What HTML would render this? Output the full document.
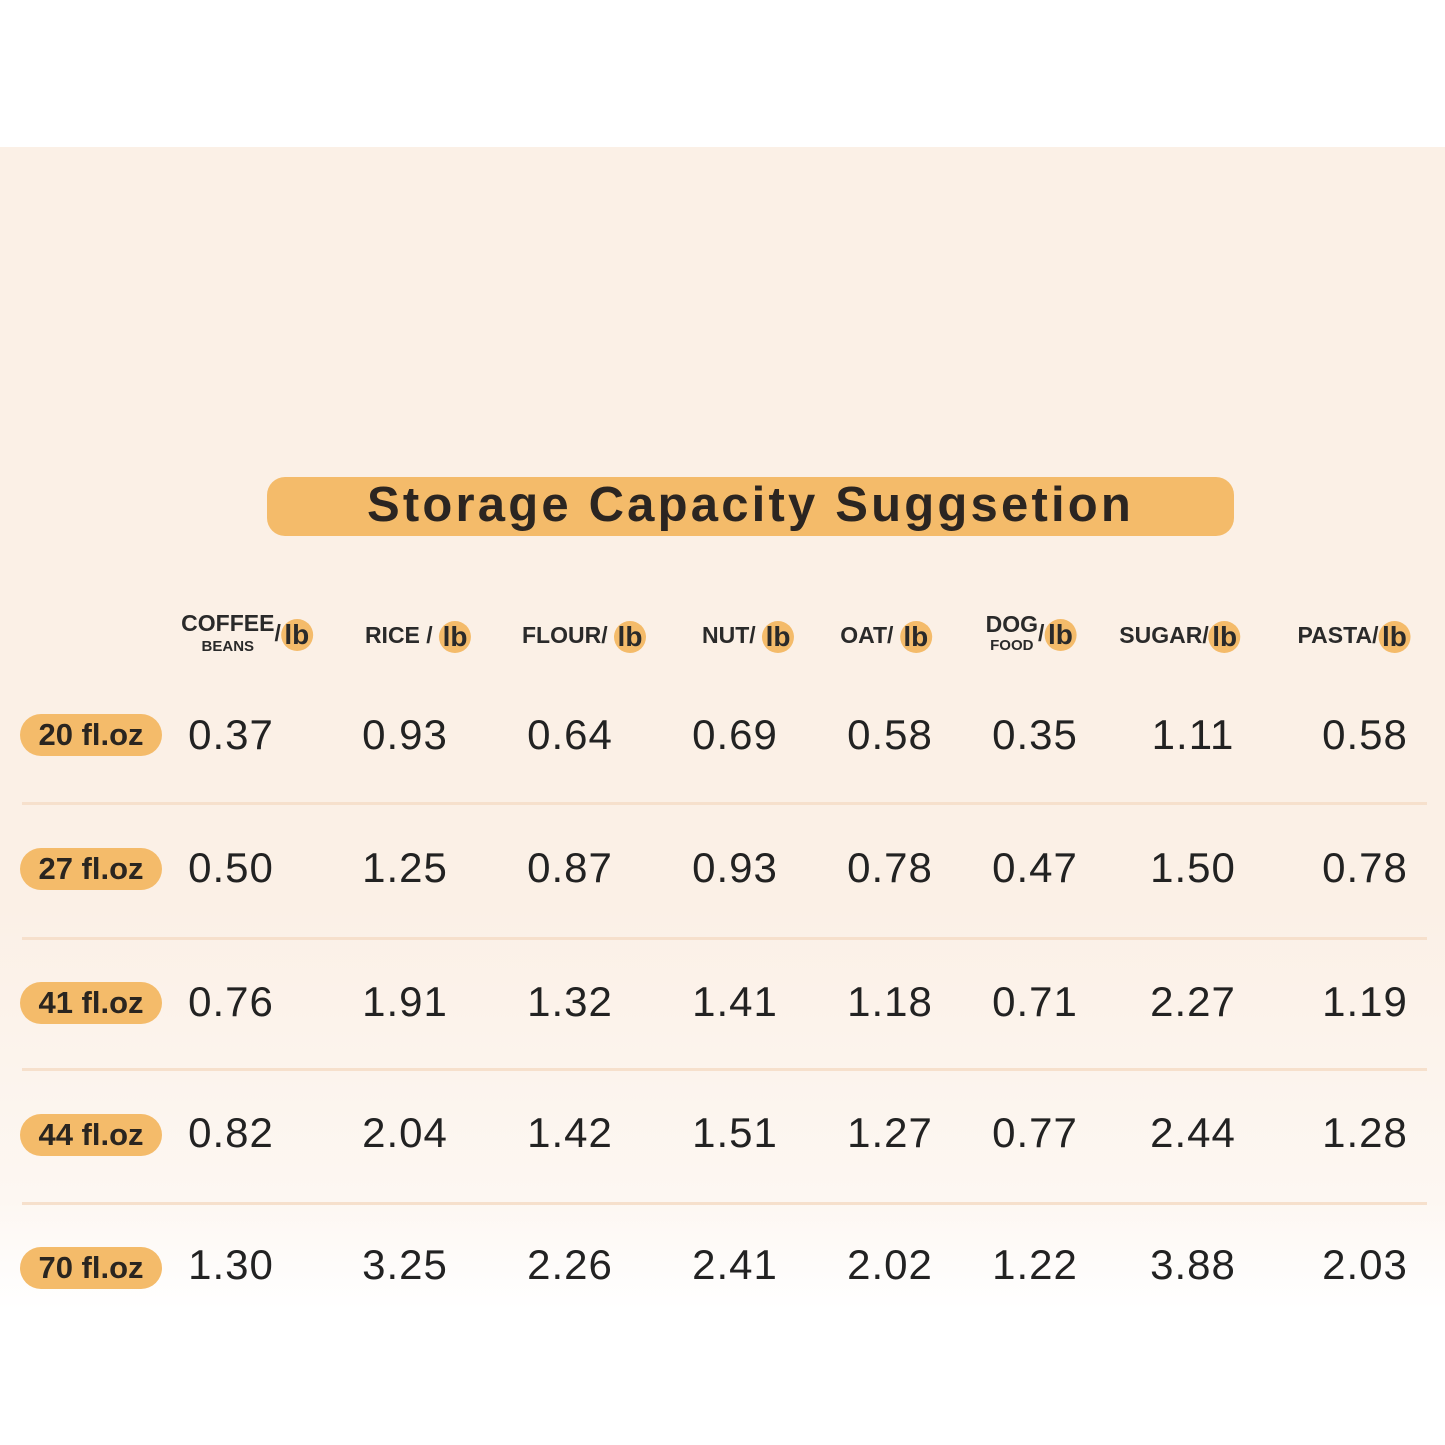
<!DOCTYPE html>
<html><head><style>
body{margin:0;width:1445px;height:1445px;position:relative;overflow:hidden;font-family:"Liberation Sans",sans-serif;
background:linear-gradient(#fff 0,#fff 147px,#fbf0e6 147px,#fbf0e6 900px,#fdf7f2 1200px,#fff 1310px,#fff 1445px);}
.a{position:absolute}
.title{left:267px;top:477px;width:967px;height:59px;border-radius:18px;background:#f4bb6a;text-align:center;font-weight:bold;font-size:49px;line-height:57px;color:#2b2521;letter-spacing:3.2px}
.h{position:absolute;top:621px;font-weight:bold;font-size:23px;color:#2a2a2a;white-space:nowrap;transform:translateX(-50%)}
.lb{display:inline-block;background:#f4bb6a;border-radius:50%;width:32px;height:32px;text-align:center;line-height:32px;font-size:28px;vertical-align:middle}
.pill{position:absolute;left:20px;width:142px;height:42px;border-radius:21px;background:#f4bb6a;text-align:center;font-weight:bold;font-size:31px;line-height:42px;color:#2a2520}
.v{position:absolute;font-size:42px;color:#222;transform:translateX(-50%);letter-spacing:1px}
.sep{position:absolute;left:22px;width:1405px;height:3px;background:#f6e0cc}
</style></head><body>
<div class="a title">Storage Capacity Suggsetion</div>

<div class="h" style="left:247px;top:613px;line-height:20px"><span style="display:inline-block;text-align:center;vertical-align:middle">COFFEE<br><span style="font-size:15px">BEANS</span></span>/<span class="lb">lb</span></div>
<div class="h" style="left:418px">RICE / <span class="lb">lb</span></div>
<div class="h" style="left:584px">FLOUR/ <span class="lb">lb</span></div>
<div class="h" style="left:748px">NUT/ <span class="lb">lb</span></div>
<div class="h" style="left:886px">OAT/ <span class="lb">lb</span></div>
<div class="h" style="left:1031px;top:615px;line-height:18px"><span style="display:inline-block;text-align:center;vertical-align:middle">DOG<br><span style="font-size:15px">FOOD</span></span>/<span class="lb">lb</span></div>
<div class="h" style="left:1180px">SUGAR/<span class="lb">lb</span></div>
<div class="h" style="left:1354px">PASTA/<span class="lb">lb</span></div>

<div class="sep" style="top:802px"></div>
<div class="sep" style="top:937px"></div>
<div class="sep" style="top:1068px"></div>
<div class="sep" style="top:1202px"></div>

<div class="pill" style="top:714px">20 fl.oz</div>
<div class="pill" style="top:848px">27 fl.oz</div>
<div class="pill" style="top:982px">41 fl.oz</div>
<div class="pill" style="top:1114px">44 fl.oz</div>
<div class="pill" style="top:1247px">70 fl.oz</div>

<div id="t"></div>
<script>
var rows=[[736,["0.37","0.93","0.64","0.69","0.58","0.35","1.11","0.58"]],
[869,["0.50","1.25","0.87","0.93","0.78","0.47","1.50","0.78"]],
[1003,["0.76","1.91","1.32","1.41","1.18","0.71","2.27","1.19"]],
[1134,["0.82","2.04","1.42","1.51","1.27","0.77","2.44","1.28"]],
[1266,["1.30","3.25","2.26","2.41","2.02","1.22","3.88","2.03"]]];
var xs=[231,405,570,735,890,1035,1193,1365];var h="";
rows.forEach(function(r){r[1].forEach(function(v,i){h+='<div class="v" style="left:'+xs[i]+'px;top:'+(r[0]-25)+'px">'+v+'</div>';});});
document.getElementById("t").innerHTML=h;
</script>
</body></html>
